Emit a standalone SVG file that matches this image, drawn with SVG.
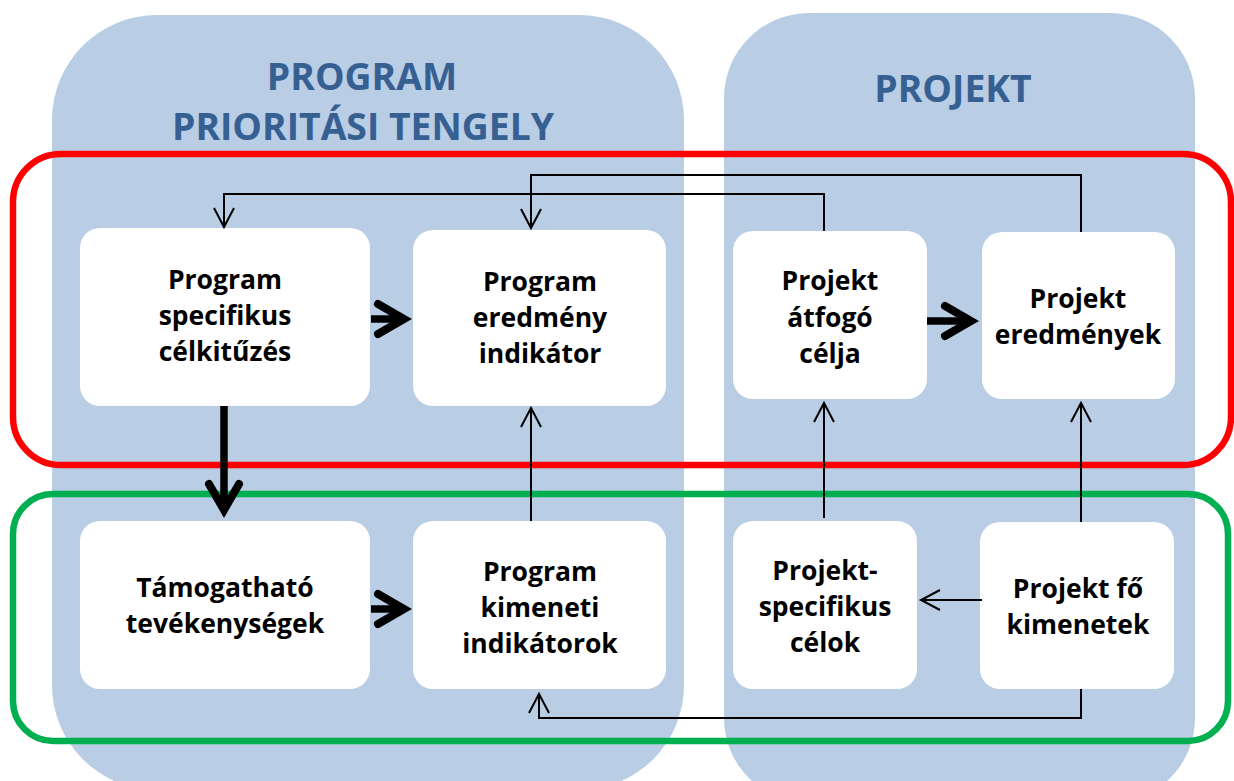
<svg xmlns="http://www.w3.org/2000/svg" width="1234" height="781" viewBox="0 0 1234 781">
<style>
.bg{fill:#B9CDE5}
.title{font-family:"Open Sans","Liberation Sans",sans-serif;font-weight:bold;font-size:37.3px;fill:#376092;text-anchor:middle}
.box{fill:#FFFFFF}
.lbl{font-family:"Open Sans","Liberation Sans",sans-serif;font-weight:bold;font-size:26.5px;fill:#000000;text-anchor:middle}
.thin{fill:none;stroke:#000;stroke-width:2}
.thick{fill:none;stroke:#000;stroke-width:7.5}
.frame{fill:none;stroke-width:6.5}
</style>
<defs>
<marker id="ah" markerUnits="userSpaceOnUse" orient="auto" refX="0" refY="0" markerWidth="30" markerHeight="30" viewBox="-25 -15 30 30" overflow="visible">
<path d="M-19,-10 L0,0 L-19,10" fill="none" stroke="#000" stroke-width="2"/>
</marker>
<marker id="ahb" markerUnits="userSpaceOnUse" orient="auto" refX="0" refY="0" markerWidth="50" markerHeight="50" viewBox="-35 -25 50 50" overflow="visible">
<path d="M-26,-15 L0,0 L-26,15" fill="none" stroke="#000" stroke-width="8" stroke-linecap="round" stroke-linejoin="miter"/>
</marker>
</defs>

<g id="backgrounds">
<rect class="bg" x="52" y="15" width="632" height="775" rx="105" ry="105"/>
<rect class="bg" x="724" y="13" width="471" height="790" rx="85" ry="85"/>
<text class="title" x="362" y="90">PROGRAM</text>
<text class="title" x="363" y="140">PRIORITÁSI TENGELY</text>
<text class="title" x="953" y="102">PROJEKT</text>
</g>

<g id="frames">
<rect class="frame" stroke="#FF0000" x="13" y="154" width="1218" height="311" rx="48" ry="48"/>
<rect class="frame" stroke="#00B050" x="13" y="494" width="1215" height="247" rx="40" ry="40"/>
</g>

<g id="n1"><rect class="box" x="80" y="228" width="290" height="178" rx="20"/>
<text class="lbl"><tspan x="225" y="289">Program</tspan><tspan x="225" y="325">specifikus</tspan><tspan x="225" y="361">célkitűzés</tspan></text></g>
<g id="n2"><rect class="box" x="413" y="230" width="253" height="176" rx="20"/>
<text class="lbl"><tspan x="540" y="291">Program</tspan><tspan x="540" y="327">eredmény</tspan><tspan x="540" y="363">indikátor</tspan></text></g>
<g id="n3"><rect class="box" x="733" y="231" width="194" height="168" rx="20"/>
<text class="lbl"><tspan x="830" y="290">Projekt</tspan><tspan x="830" y="327">átfogó</tspan><tspan x="830" y="363">célja</tspan></text></g>
<g id="n4"><rect class="box" x="982" y="232" width="193" height="167" rx="20"/>
<text class="lbl"><tspan x="1078" y="308">Projekt</tspan><tspan x="1078" y="344">eredmények</tspan></text></g>
<g id="n5"><rect class="box" x="80" y="521" width="290" height="168" rx="20"/>
<text class="lbl"><tspan x="225" y="597">Támogatható</tspan><tspan x="225" y="633">tevékenységek</tspan></text></g>
<g id="n6"><rect class="box" x="413" y="521" width="253" height="168" rx="20"/>
<text class="lbl"><tspan x="540" y="581">Program</tspan><tspan x="540" y="617">kimeneti</tspan><tspan x="540" y="653">indikátorok</tspan></text></g>
<g id="n7"><rect class="box" x="733" y="521" width="184" height="168" rx="20"/>
<text class="lbl"><tspan x="825" y="580">Projekt-</tspan><tspan x="825" y="616">specifikus</tspan><tspan x="825" y="652">célok</tspan></text></g>
<g id="n8"><rect class="box" x="980" y="522" width="194" height="167" rx="20"/>
<text class="lbl"><tspan x="1078" y="598">Projekt fő</tspan><tspan x="1078" y="634">kimenetek</tspan></text></g>

<g id="connectors">
<path class="thin" d="M824,231 V194 H224 V227" marker-end="url(#ah)"/>
<path class="thin" d="M1081,232 V175 H531 V228" marker-end="url(#ah)"/>
<path class="thin" d="M531,521 V408" marker-end="url(#ah)"/>
<path class="thin" d="M824,518 V403" marker-end="url(#ah)"/>
<path class="thin" d="M1081,522 V403" marker-end="url(#ah)"/>
<path class="thin" d="M982,600 H921" marker-end="url(#ah)"/>
<path class="thin" d="M1081,689 V718 H539 V694" marker-end="url(#ah)"/>
<path class="thick" d="M371,319 H404" marker-end="url(#ahb)"/>
<path class="thick" d="M371,609 H404" marker-end="url(#ahb)"/>
<path class="thick" d="M927,321 H971" marker-end="url(#ahb)"/>
<path class="thick" d="M224,406 V510" marker-end="url(#ahb)"/>
</g>
</svg>
